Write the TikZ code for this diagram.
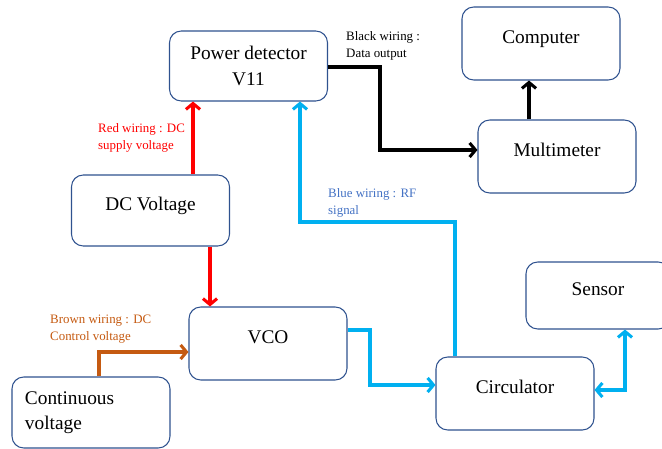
\documentclass[tikz,border=0pt]{standalone}
\usepackage{fontspec}
\setmainfont{LiberationSerif}[Extension=.ttf, UprightFont=*-Regular,
  BoldFont=*-Bold, ItalicFont=*-Italic]
\usepackage{xcolor}
\usetikzlibrary{arrows.meta,positioning,calc}
\definecolor{boxblue}{HTML}{2F528F}
\definecolor{rfblue}{HTML}{00B0F0}
\definecolor{rftext}{HTML}{4472C4}
\definecolor{dcbrown}{HTML}{C55A11}
\tikzset{
  block/.style={
    rectangle, rounded corners=10pt, draw=boxblue, fill=white,
    minimum width=4.74cm, minimum height=2.19cm,
    text height=0.4cm, text depth=0.4cm,
    font=\fontsize{16.5}{21.5}\selectfont, align=center, line width=0.9pt
  },
  twoline/.style={text height=, text depth=},
  wirelabel/.style={
    anchor=north west, inner sep=0pt, align=left,
    font=\fontsize{11}{14.5}\selectfont
  },
  barb/.tip={Straight Barb[length=5pt,width=12pt]},
  wire/.style={line width=2.6pt, -barb},
  dcwire/.style={wire, color=red},
  rfwire/.style={wire, color=rfblue},
  datawire/.style={wire, color=black},
  ctrlwire/.style={wire, color=dcbrown},
}

\begin{document}
\begin{tikzpicture}[x=0.03cm, y=-0.03cm]
  \useasboundingbox (0,0) rectangle (662,449);

  % Blocks
  \node[block, twoline, minimum height=2.1cm] (pd) at (248.5,66) {Power detector\\V11};
  \node[block] (comp) at (541,43.5) {Computer};
  \node[block] (mm) at (557,156.5) {Multimeter};
  \node[block, minimum height=2.13cm] (dc) at (150.5,210.5) {DC Voltage};
  \node[block] (vco) at (268,343.5) {VCO};
  \node[block, twoline, minimum height=2.13cm, text width=3.96cm, inner xsep=0.39cm,
        align=left] (cont) at (91,412.5) {Continuous\\voltage};
  \node[block] (circ) at (515,393.5) {Circulator};
  \node[block, minimum width=4.32cm, minimum height=2.01cm] (sensor)
        at (598,295.5) {Sensor};

  % DC supply
  \draw[dcwire] (dc.north -| 193,0) -- (pd.south -| 193,0);
  \draw[dcwire] (dc.south -| 210,0) -- (vco.north -| 210,0);
  \node[wirelabel, text=red] (dclabel) at (98,123) {Red wiring : DC\\supply voltage};

  % RF signal
  \coordinate (rfbend) at (300,222);
  \draw[rfwire] (circ.north -| 455,0) |- (rfbend) -- (pd.south -| rfbend);
  \draw[rfwire] (vco.east |- 0,330) -| (370,385) -- (circ.west |- 0,385);
  \draw[rfwire, barb-barb] (circ.east |- 0,390) -| (sensor.south -| 625,0);
  \node[wirelabel, text=rftext] (rflabel) at (328,188) {Blue wiring : RF\\signal};

  % Data output
  \draw[datawire] (pd.east |- 0,67) -| (380,150) -- (mm.west |- 0,150);
  \draw[datawire] (mm.north -| 529,0) -- (comp.south -| 529,0);
  \node[wirelabel] (datalabel) at (346,31) {Black wiring :\\Data output};

  % Control voltage
  \draw[ctrlwire] (cont.north -| 99,0) |- (vco.west |- 0,352);
  \node[wirelabel, text=dcbrown] (ctrllabel) at (50,315) {Brown wiring : DC\\Control voltage};

\end{tikzpicture}
\end{document}
